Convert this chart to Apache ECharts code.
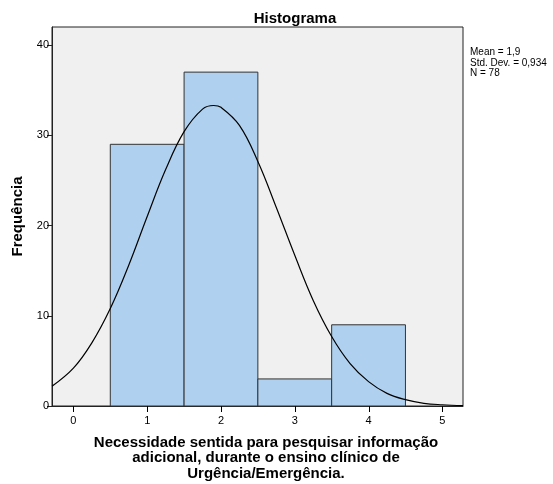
<!DOCTYPE html>
<html>
<head>
<meta charset="utf-8">
<script src="https://cdn.jsdelivr.net/npm/echarts@6/dist/echarts.min.js"></script>
<style>
  html, body { margin: 0; padding: 0; background: #fff; }
  #chart { width: 553px; height: 484px; }
</style>
</head>
<body>
<div id="chart"></div>
<script>
// classes do histograma (centro) e frequências
var binCenters = [1, 2, 3, 4];
var frequencies = [29, 37, 3, 9];
// curva normal (x, frequência)
var curveX = [-0.29, 0, 0.25, 0.5, 0.75, 1, 1.25, 1.5, 1.75, 1.9, 2, 2.25, 2.5, 2.75, 3, 3.25, 3.5, 3.75, 4, 4.25, 4.5, 4.75, 5, 5.28];
var curveY = [2.2, 4.2, 7.0, 10.8, 15.6, 21.0, 26.2, 30.4, 32.9, 33.3, 33.1, 31.1, 27.1, 22.0, 16.7, 11.7, 7.7, 4.7, 2.7, 1.4, 0.7, 0.3, 0.14, 0.05];
var xTicks = [0, 1, 2, 3, 4, 5];
var yTicks = [0, 10, 20, 30, 40];
var stats = ['Mean = 1,9', 'Std. Dev. = 0,934', 'N = 78'];

var font = 'Liberation Sans, Arial, sans-serif';
var myChart = echarts.init(document.getElementById('chart'));

var bars = binCenters.map(function (c, i) { return [c, frequencies[i]]; });
var curve = curveX.map(function (x, i) { return [x, curveY[i]]; });

var texts = [{
    type: 'text',
    x: 470,
    y: 47,
    style: {
        text: stats.join('\n'),
        font: '10px ' + font,
        fill: '#000',
        lineHeight: 10.5
    }
}, {
    type: 'text',
    x: 266,
    y: 435,
    style: {
        text: 'Necessidade sentida para pesquisar informação\nadicional, durante o ensino clínico de\nUrgência/Emergência.',
        font: 'bold 15px ' + font,
        fill: '#000',
        textAlign: 'center',
        align: 'center',
        lineHeight: 15.5
    }
}];

var option = {
    animation: false,
    title: {
        text: 'Histograma',
        left: 290,
        top: 6,
        textAlign: 'center',
        textStyle: { fontFamily: font, fontSize: 15, fontWeight: 'bold', color: '#000' }
    },
    graphic: texts,
    grid: {
        left: 52,
        right: 90,
        top: 27,
        bottom: 78,
        show: true,
        backgroundColor: '#f0f0f0',
        borderColor: '#222',
        borderWidth: 1
    },
    xAxis: {
        type: 'value',
        min: -0.29,
        max: 5.28,
        splitLine: { show: false },
        axisLine: { show: true, onZero: false, lineStyle: { color: '#222' } },
        axisTick: { show: false },
        axisLabel: { customValues: xTicks, color: '#000', fontFamily: font, fontSize: 11, margin: 9 }
    },
    yAxis: {
        type: 'value',
        min: 0,
        max: 42,
        name: 'Frequência',
        nameLocation: 'middle',
        nameGap: 27,
        nameTextStyle: { fontFamily: font, fontSize: 15, fontWeight: 'bold', color: '#000' },
        splitLine: { show: false },
        axisLine: { show: true, onZero: false, lineStyle: { color: '#222' } },
        axisTick: { show: true, inside: false, customValues: yTicks, length: 5, lineStyle: { color: '#222' } },
        axisLabel: { customValues: yTicks, color: '#000', fontFamily: font, fontSize: 11, margin: 3 }
    },
    series: [{
        type: 'custom',
        data: bars,
        renderItem: function (params, api) {
            var c = api.value(0), v = api.value(1);
            var p0 = api.coord([c - 0.5, v]);
            var p1 = api.coord([c + 0.5, 0]);
            return {
                type: 'rect',
                shape: { x: p0[0], y: p0[1], width: p1[0] - p0[0], height: p1[1] - p0[1] },
                style: { fill: '#afd1ef', stroke: '#333', lineWidth: 1 }
            };
        },
        z: 2
    }, {
        type: 'line',
        data: curve,
        smooth: 0.4,
        symbol: 'none',
        lineStyle: { color: '#000', width: 1.2 },
        z: 3
    }]
};
myChart.setOption(option);

// marcas do eixo x, posicionadas pela escala do eixo
var tickMarks = xTicks.map(function (t) {
    var p = myChart.convertToPixel({ gridIndex: 0 }, [t, 0]);
    return {
        type: 'rect',
        z: 100,
        shape: { x: Math.round(p[0]), y: Math.round(p[1]), width: 1, height: 6 },
        style: { fill: '#000' }
    };
});
myChart.setOption({ graphic: texts.concat(tickMarks) });
</script>
</body>
</html>
